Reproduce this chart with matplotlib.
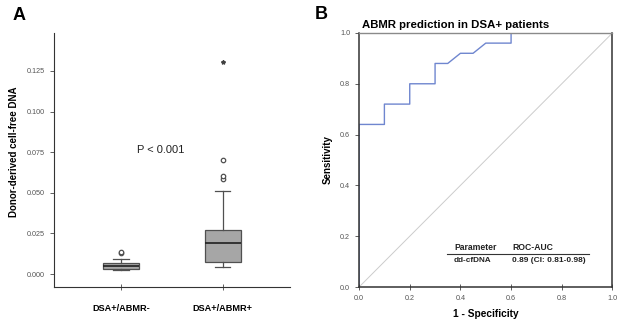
import numpy as np
import matplotlib.pyplot as plt

plt.rcParams["font.family"] = ["Liberation Sans", "DejaVu Sans"]

# Panel A: dd-cfDNA by group (box summary)
groups = ["DSA+/ABMR-", "DSA+/ABMR+"]
q1 = [0.0033, 0.0074]
med = [0.0051, 0.0191]
q3 = [0.0070, 0.0271]
wlo = [0.0025, 0.0045]
whi = [0.0090, 0.0509]
outliers = [[0.0131, 0.0137], [0.0587, 0.0603, 0.0700]]
extremes = [[], [0.1303]]
yticks_a = [0.000, 0.025, 0.050, 0.075, 0.100, 0.125]

# Panel B: ROC curve
fpr = [0, 0, 0.1, 0.1, 0.2, 0.2, 0.3, 0.3, 0.35, 0.4, 0.45, 0.5, 0.6, 0.6, 1.0]
tpr = [0, 0.64, 0.64, 0.72, 0.72, 0.80, 0.80, 0.88, 0.88, 0.92, 0.92, 0.96, 0.96, 1.0, 1.0]
ticks_b = [0.0, 0.2, 0.4, 0.6, 0.8, 1.0]

fig = plt.figure(figsize=(6.18, 3.2), dpi=100)
axA = fig.add_axes([0.0874, 0.104, 0.382, 0.793])
axB = fig.add_axes([0.581, 0.103, 0.410, 0.794])

# --- Panel A ---
stats = []
for i in range(2):
    stats.append(dict(med=med[i], q1=q1[i], q3=q3[i], whislo=wlo[i], whishi=whi[i],
                      fliers=[], label=groups[i]))
axA.bxp(stats, positions=[1, 2], widths=0.35, patch_artist=True,
        boxprops=dict(facecolor="#a6a6a6", edgecolor="#505050", linewidth=0.9),
        medianprops=dict(color="#202020", linewidth=1.2),
        whiskerprops=dict(color="#505050", linewidth=0.9),
        capprops=dict(color="#505050", linewidth=0.9), capwidths=0.15)
for i in range(2):
    axA.plot([i + 1] * len(outliers[i]), outliers[i], "o", mfc="white", mec="#505050",
             ms=3.2, mew=0.9, ls="none")
    axA.plot([i + 1] * len(extremes[i]), extremes[i], "*", color="#404040", ms=3, ls="none")

axA.set_xlim(0.343, 2.66)
axA.set_ylim(-0.0078, 0.1484)
axA.set_yticks(yticks_a)
axA.set_yticklabels([f"{v:.3f}" for v in yticks_a])
axA.set_xticks([1, 2])
axA.set_xticklabels(groups, fontweight="bold", fontsize=6.6)
axA.tick_params(axis="y", labelsize=5.2, labelcolor="#555555", length=3, width=0.6, color="#444444")
axA.tick_params(axis="x", direction="inout", length=5, width=0.6, pad=10, color="#444444")
for s in ["top", "right"]:
    axA.spines[s].set_visible(False)
for s in ["left", "bottom"]:
    axA.spines[s].set_linewidth(0.8)
    axA.spines[s].set_color("#333333")
axA.set_ylabel("Donor-derived cell-free DNA", fontsize=7, fontweight="bold")
axA.yaxis.set_label_coords(-0.15, 0.53)
axA.text(1.39, 0.0766, "P < 0.001", fontsize=8, ha="center", va="center", color="#222222")
fig.text(0.021, 0.953, "A", fontsize=13, fontweight="bold", va="center")

# --- Panel B ---
axB.plot([0, 1], [0, 1], color="#cccccc", lw=0.7, zorder=1)
axB.plot(fpr, tpr, color="#6f86cf", lw=1.0, zorder=1)
axB.set_xlim(0, 1)
axB.set_ylim(0, 1)
axB.set_xticks(ticks_b)
axB.set_yticks(ticks_b)
axB.set_xticklabels([f"{v:.1f}" for v in ticks_b])
axB.set_yticklabels([f"{v:.1f}" for v in ticks_b])
axB.tick_params(axis="both", labelsize=5.2, labelcolor="#555555", width=0.6, color="#444444")
axB.tick_params(axis="x", direction="inout", length=5)
axB.tick_params(axis="y", direction="out", length=3)
for s in ["left", "bottom", "right"]:
    axB.spines[s].set_linewidth(1.1)
    axB.spines[s].set_color("#333333")
axB.spines["top"].set_linewidth(1.0)
axB.spines["top"].set_color("#8a8a8a")
axB.set_xlabel("1 - Specificity", fontsize=7.3, fontweight="bold", labelpad=5)
axB.set_ylabel("Sensitivity", fontsize=7, fontweight="bold", labelpad=5)
axB.set_title("ABMR prediction in DSA+ patients", fontsize=8.2, fontweight="bold",
              loc="left", x=0.01, pad=3.5)
fig.text(0.51, 0.955, "B", fontsize=13, fontweight="bold", va="center")

# small summary table
axB.text(0.375, 0.155, "Parameter", fontsize=6.2, fontweight="bold", color="#222222", va="center")
axB.text(0.605, 0.155, "ROC-AUC", fontsize=6.2, fontweight="bold", color="#222222", va="center")
axB.plot([0.347, 0.907], [0.129, 0.129], color="#333333", lw=0.8)
axB.text(0.375, 0.104, "dd-cfDNA", fontsize=5.9, fontweight="bold", color="#222222", va="center")
axB.text(0.605, 0.104, "0.89 (CI: 0.81-0.98)", fontsize=6.0, fontweight="bold", color="#222222", va="center")

fig.savefig("out.png", dpi=100)
